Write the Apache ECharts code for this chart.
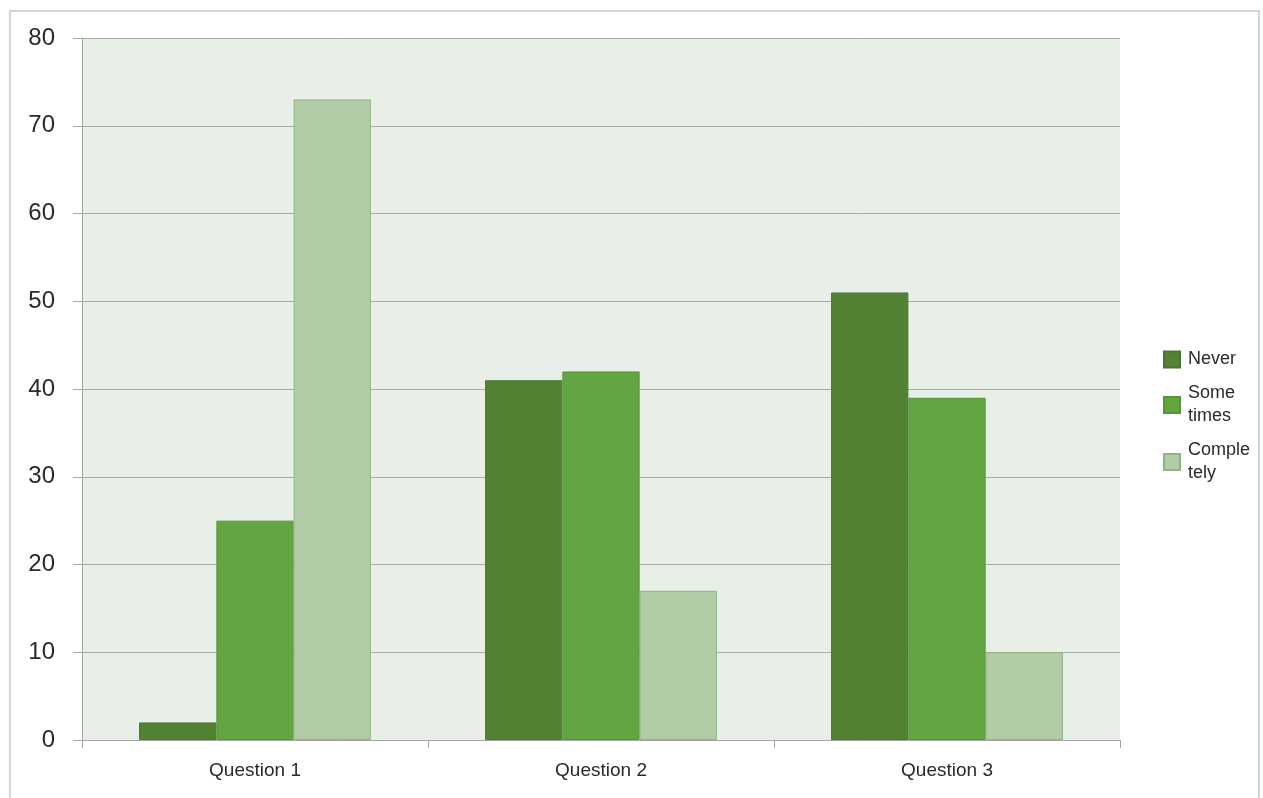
<!DOCTYPE html>
<html>
<head>
<meta charset="utf-8">
<script src="https://cdn.jsdelivr.net/npm/echarts@6/dist/echarts.min.js"></script>
<style>
  html, body { margin: 0; padding: 0; background: #ffffff; }
  #frame { position: absolute; left: 9px; top: 10px; width: 1251px; height: 800px;
           border: 2px solid #d6d6d6; border-bottom: none; box-sizing: border-box; }
  #chart { position: absolute; left: 0; top: 0; width: 1263px; height: 798px; }
</style>
</head>
<body>
<div id="frame"></div>
<div id="chart"></div>
<script>
// Survey answers per question
const categories = ['Question 1', 'Question 2', 'Question 3'];
const seriesNames = ['Never', 'Sometimes', 'Completely'];
const legendText = { 'Never': 'Never', 'Sometimes': 'Some\ntimes', 'Completely': 'Comple\ntely' };
const never = [2, 41, 51];
const sometimes = [25, 42, 39];
const completely = [73, 17, 10];
const yTicks = [0, 10, 20, 30, 40, 50, 60, 70, 80];

const fills = ['#548235', '#63a540', '#b1cca6'];
const edges = ['#4b7530', '#58953a', '#90b585'];
const values = [never, sometimes, completely];

const chart = echarts.init(document.getElementById('chart'), null, { renderer: 'canvas' });

const series = seriesNames.map((name, i) => ({
  name: name,
  type: 'bar',
  data: values[i],
  barGap: '0%',
  barCategoryGap: '33%',
  itemStyle: { color: fills[i], borderColor: edges[i], borderWidth: 1 },
  emphasis: { disabled: true }
}));

chart.setOption({
  animation: false,
  textStyle: { fontFamily: 'Liberation Sans, Arial, sans-serif' },
  grid: { left: 82, right: 143, top: 38, bottom: 58, show: true,
          backgroundColor: '#e8efe7', borderWidth: 0 },
  legend: {
    orient: 'vertical',
    left: 1163,
    top: 348,
    padding: 0,
    itemWidth: 16,
    itemHeight: 16,
    itemGap: 11,
    icon: 'rect',
    data: seriesNames,
    formatter: n => legendText[n],
    textStyle: { fontSize: 18, color: '#2a2a2a', lineHeight: 23, padding: [0, 0, 0, 3] },
    selectedMode: false
  },
  xAxis: {
    type: 'category',
    data: categories,
    axisLine: { lineStyle: { color: '#a6a6a6', width: 1 } },
    axisTick: { show: true, length: 8, lineStyle: { color: '#a6a6a6' } },
    axisLabel: { fontSize: 19, color: '#2a2a2a', margin: 21 }
  },
  yAxis: {
    type: 'value',
    min: yTicks[0],
    max: yTicks[yTicks.length - 1],
    interval: yTicks[1] - yTicks[0],
    axisLine: { show: true, lineStyle: { color: '#a6a6a6', width: 1 } },
    axisTick: { show: true, length: 9, lineStyle: { color: '#a6a6a6' } },
    axisLabel: { fontSize: 24, color: '#2a2a2a', margin: 27 },
    splitLine: { lineStyle: { color: '#a8aca8', width: 1 } }
  },
  series: series
});
</script>
</body>
</html>
